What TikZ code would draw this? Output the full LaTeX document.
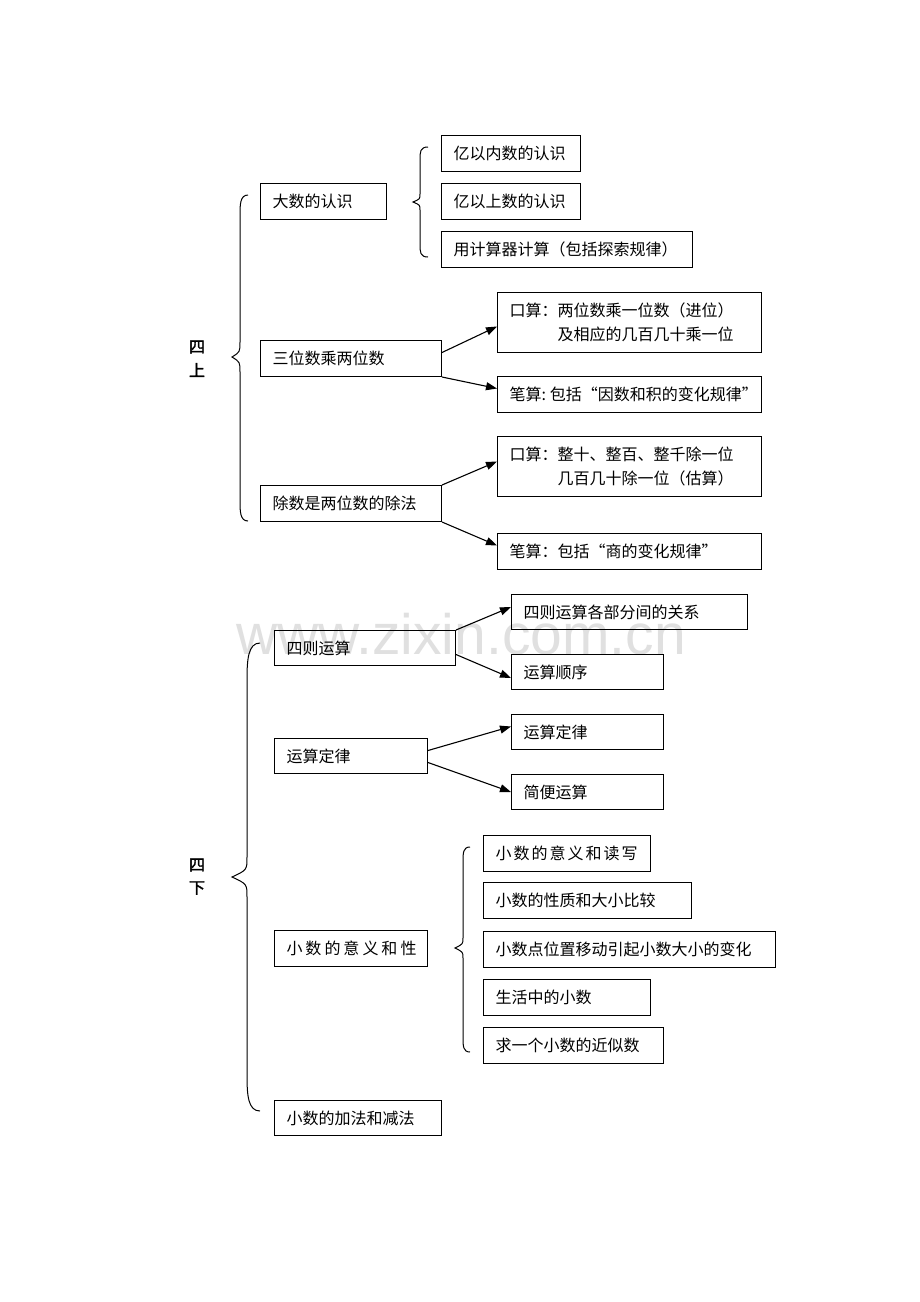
\documentclass[tikz,border=0pt]{standalone}
\usepackage{fontspec}
\setmainfont{Noto Sans CJK SC}
\newfontfamily\cjkbold[FakeBold=2]{Noto Sans CJK SC}
\newfontfamily\wmfont{Liberation Sans}
\usetikzlibrary{arrows.meta}
\newcommand\myspc[1]{\kern#1\relax}
\begin{document}
\begin{tikzpicture}[x=1pt,y=-1pt,
  box/.style={draw, line width=1pt, anchor=north west, inner xsep=12pt, inner ysep=0pt,
    align=left, font=\fontsize{16}{24}\selectfont},
  arr/.style={line width=1.1pt, -{Triangle[length=11pt,width=8pt]}},
  brace/.style={line width=1pt},
  lab/.style={font=\cjkbold\fontsize{16}{20}\selectfont}]
\useasboundingbox (0,0) rectangle (920,1302);
\fill[white] (0,0) rectangle (920,1302);
% watermark
\node[text=black!12, font=\wmfont\fontsize{57}{60}\selectfont] (wm) at (461,634) {www.zixin.com.cn};

% ===== 四上 =====
\node[lab] (si1) at (197,347) {四};
\node[lab] (shang) at (197,370) {上};
\draw[brace] (248,195) .. controls (240,195) and (240,205) .. (240,215) -- (240,342)
  .. controls (240,352) .. (232,357) .. controls (240,362) .. (240,372) -- (240,501)
  .. controls (240,511) and (240,521) .. (248,521);

\node[box, text width=102pt, minimum height=36pt] (dashu) at (260,183) {大数的认识};
\node[box, text width=115pt, minimum height=36pt] (yinei) at (441,135) {亿以内数的认识};
\node[box, text width=115pt, minimum height=36pt] (yishang) at (441,183) {亿以上数的认识};
\node[box, text width=227pt, minimum height=36pt] (jsq) at (441,231) {\mbox{用计算器计算（包括探索规律）}};
\draw[brace] (428,147) .. controls (420,147) and (420,152) .. (420,160) -- (420,194)
  .. controls (420,199) .. (413,202) .. controls (420,205) .. (420,210) -- (420,244)
  .. controls (420,252) and (420,257) .. (428,257);

\node[box, text width=157pt, minimum height=36pt] (sanwei) at (260,340) {三位数乘两位数};
\node[box, text width=240pt, minimum height=60pt] (ks1) at (497,292) {口算：两位数乘一位数（进位）\\\hspace*{3em}及相应的几百几十乘一位};
\node[box, text width=240pt, minimum height=36pt] (bs1) at (497,376) {\mbox{笔算:\myspc{4pt}包括“因数和积的变化规律”}};
\draw[arr] ([yshift=6pt]sanwei.east) -- ([yshift=-4pt]ks1.west);
\draw[arr] (sanwei.south east) -- ([yshift=6pt]bs1.west);

\node[box, text width=157pt, minimum height=36pt] (chushu) at (260,485) {除数是两位数的除法};
\node[box, text width=240pt, minimum height=60pt] (ks2) at (497,436) {口算：整十、整百、整千除一位\\\hspace*{3em}几百几十除一位（估算）};
\node[box, text width=240pt, minimum height=36pt] (bs2) at (497,533) {\mbox{笔算：包括“商的变化规律”}};
\draw[arr] (chushu.north east) -- ([yshift=5pt]ks2.west);
\draw[arr] (chushu.south east) -- ([yshift=6pt]bs2.west);

% ===== 四下 =====
\node[lab] (si2) at (197,865) {四};
\node[lab] (xia) at (197,888) {下};
\draw[brace] (260,643) .. controls (248,643) and (247,660) .. (247,680) -- (247,857)
  .. controls (247,870) .. (232,877) .. controls (247,884) .. (247,897) -- (247,1075)
  .. controls (247,1095) and (248,1111) .. (260,1111);

\node[box, text width=157pt, minimum height=35pt] (sz) at (274,630) {四则运算};
\node[box, text width=212pt, minimum height=35pt] (gx) at (511,594) {四则运算各部分间的关系};
\node[box, text width=128pt, minimum height=35pt] (sx) at (511,654) {运算顺序};
\draw[arr] (sz.north east) -- ([yshift=5pt]gx.west);
\draw[arr] ([yshift=-6.5pt]sz.east) -- ([yshift=-6pt]sx.west);

\node[box, text width=129pt, minimum height=35pt] (ysdl) at (274,738) {运算定律};
\node[box, text width=128pt, minimum height=35pt] (dl) at (511,714) {运算定律};
\node[box, text width=128pt, minimum height=35pt] (jb) at (511,774) {简便运算};
\draw[arr] ([yshift=5.5pt]ysdl.east) -- ([yshift=5.5pt]dl.west);
\draw[arr] ([yshift=-6.5pt]ysdl.east) -- (jb.west);

\node[box, text width=129pt, minimum height=36pt] (xsyy) at (274,930) {\mbox{小\myspc{3pt}数\myspc{3pt}的\myspc{3pt}意\myspc{3pt}义\myspc{3pt}和\myspc{3pt}性}};
\node[box, text width=143pt, minimum height=36pt] (dx) at (483,835) {\mbox{小\myspc{2pt}数\myspc{2pt}的\myspc{2pt}意\myspc{2pt}义\myspc{2pt}和\myspc{2pt}读\myspc{2pt}写}};
\node[box, text width=184pt, minimum height=36pt] (xz) at (483,882) {小数的性质和大小比较};
\node[box, text width=268pt, minimum height=36pt] (yd) at (483,931) {\mbox{小数点位置移动引起小数大小的变化}};
\node[box, text width=143pt, minimum height=36pt] (sh) at (483,979) {生活中的小数};
\node[box, text width=156pt, minimum height=36pt] (js) at (483,1027) {求一个小数的近似数};
\draw[brace] (470,847) .. controls (463,847) and (463,853) .. (463,862) -- (463,938)
  .. controls (463,944) .. (455,948) .. controls (463,952) .. (463,958) -- (463,1037)
  .. controls (463,1046) and (463,1052) .. (470,1052);

\node[box, text width=143pt, minimum height=35pt] (jj) at (274,1100) {小数的加法和减法};
\end{tikzpicture}
\end{document}
